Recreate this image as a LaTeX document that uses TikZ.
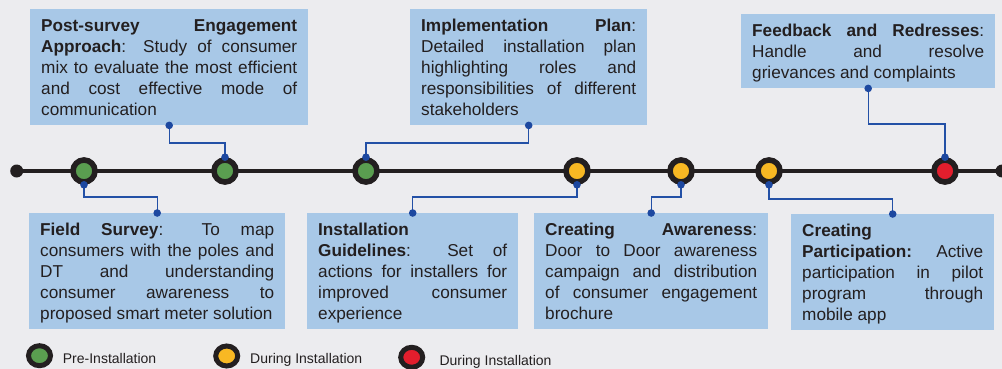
\documentclass[tikz,border=0pt]{standalone}
\usepackage{fontspec}
\usetikzlibrary{shapes.geometric}
\setmainfont{Liberation Sans}
\definecolor{bgc}{HTML}{ECECEF}
\definecolor{boxc}{HTML}{A8C8E7}
\definecolor{linec}{HTML}{2350A6}
\definecolor{dotc}{HTML}{1D48A0}
\definecolor{ringc}{HTML}{231F20}
\definecolor{txtc}{HTML}{231F20}
\definecolor{greenc}{HTML}{5A9E50}
\definecolor{yellowc}{HTML}{F8B823}
\definecolor{redc}{HTML}{E31E2D}
\def\mystrut{\vrule width0pt height16.5pt depth4.5pt\relax}
\newcommand\jln[1]{\hbox to\hsize{\mystrut#1}}
\newcommand\lastln[1]{\hbox to\hsize{\mystrut#1\hfil}}
\newcommand\boxtext[2]{\vbox{\hsize=#1pt\baselineskip=21pt\lineskip=0pt\lineskiplimit=-20pt #2}}
\tikzset{
  infobox/.style={fill=boxc, inner xsep=11pt, inner ysep=5.5pt, anchor=north west,
    font=\fontsize{17.2pt}{21pt}\selectfont, text=txtc},
  ring/.style={circle, draw=ringc, line width=5.6pt, minimum size=22pt, inner sep=0pt},
  lring/.style={ellipse, draw=ringc, line width=5pt, minimum width=22pt, minimum height=20pt, inner sep=0pt},
  conn/.style={draw=linec, line width=1.4pt},
  legtext/.style={anchor=base west, inner sep=0pt, text=txtc, font=\fontsize{14pt}{16pt}\selectfont}
}
\begin{document}
\begin{tikzpicture}[x=1pt,y=-1pt]
\fill[bgc] (0,0) rectangle (1002,369);
\useasboundingbox (0,0) rectangle (1002,369);
% timeline
\coordinate (tstart) at (16.7,171);
\coordinate (tend) at (1002,171);
\draw[ringc, line width=4pt] (tstart) -- (tend);
\fill[ringc] (tstart) circle (6.5);
\fill[ringc] (tend) circle (6.5);
% stage circles
\node[ring, fill=greenc] (s1) at (84,171) {};
\node[ring, fill=greenc] (s2) at (225,171) {};
\node[ring, fill=greenc] (s3) at (366,171) {};
\node[ring, fill=yellowc] (s4) at (577,171) {};
\node[ring, fill=yellowc] (s5) at (681,171) {};
\node[ring, fill=yellowc] (s6) at (769,171) {};
\node[ring, fill=redc] (s7) at (945,171) {};
% boxes
\node[infobox] (post) at (30,9) {\boxtext{256}{%
\jln{\textbf{Post-survey}\hfill\textbf{Engagement}}%
\jln{\textbf{Approach}: Study of consumer}%
\jln{mix to evaluate the most efficient}%
\jln{and cost effective mode of}%
\lastln{communication}}};
\node[infobox] (impl) at (410,9) {\boxtext{215}{%
\jln{\textbf{Implementation}\hfill\textbf{Plan}:}%
\jln{Detailed installation plan}%
\jln{highlighting roles and}%
\jln{responsibilities of different}%
\lastln{stakeholders}}};
\node[infobox] (feed) at (741,14) {\boxtext{232}{%
\jln{\textbf{Feedback and Redresses}:}%
\jln{Handle and resolve}%
\lastln{grievances and complaints}}};
\node[infobox] (field) at (29,213) {\boxtext{234}{%
\jln{\textbf{Field Survey}: To map}%
\jln{consumers with the poles and}%
\jln{DT and understanding}%
\jln{consumer awareness to}%
\lastln{proposed smart meter solution}}};
\node[infobox] (guide) at (307,213) {\boxtext{189}{%
\lastln{\textbf{Installation}}%
\jln{\textbf{Guidelines}: Set of}%
\jln{actions for installers for}%
\jln{improved consumer}%
\lastln{experience}}};
\node[infobox] (aware) at (534,213) {\boxtext{212}{%
\jln{\textbf{Creating Awareness}:}%
\jln{Door to Door awareness}%
\jln{campaign and distribution}%
\jln{of consumer engagement}%
\lastln{brochure}}};
\node[infobox] (part) at (791,214) {\boxtext{181}{%
\lastln{\textbf{Creating}}%
\jln{\textbf{Participation:} Active}%
\jln{participation in pilot}%
\jln{program through}%
\lastln{mobile app}}};
% elbow levels
\coordinate (ya) at (0,143);
\coordinate (yb) at (0,197);
\coordinate (yc) at (0,199);
\coordinate (yd) at (0,124);
% connectors
\draw[conn] (s1.south) -- (s1.south |- yb) -| (field.north);
\draw[conn] (post.south) -- (post.south |- ya) -| (s2.north);
\draw[conn] (impl.south) -- (impl.south |- ya) -| (s3.north);
\draw[conn] (guide.north) -- (guide.north |- yb) -| (s4.south);
\draw[conn] (aware.north) -- (aware.north |- yb) -| (s5.south);
\draw[conn] (part.north) -- (part.north |- yc) -| (s6.south);
\draw[conn] (feed.south) -- (feed.south |- yd) -| (s7.north);
% dots
\foreach \p in {s1.south, field.north, post.south, s2.north, impl.south, s3.north,
  guide.north, s4.south, aware.north, s5.south, part.north, s6.south, feed.south, s7.north}
  \fill[dotc] (\p) circle (3.8);
% legend
\node[lring, fill=greenc] (lg) at (39.5,355.7) {};
\node[legtext] (lgt) at (62.7,363.3) {Pre-Installation};
\node[lring, fill=yellowc] (ly) at (226.7,356) {};
\node[legtext] (lyt) at (250,363.3) {During Installation};
\node[lring, fill=redc] (lr) at (411.7,357.3) {};
\node[legtext] (lrt) at (439.3,365) {During Installation};
\end{tikzpicture}
\end{document}
